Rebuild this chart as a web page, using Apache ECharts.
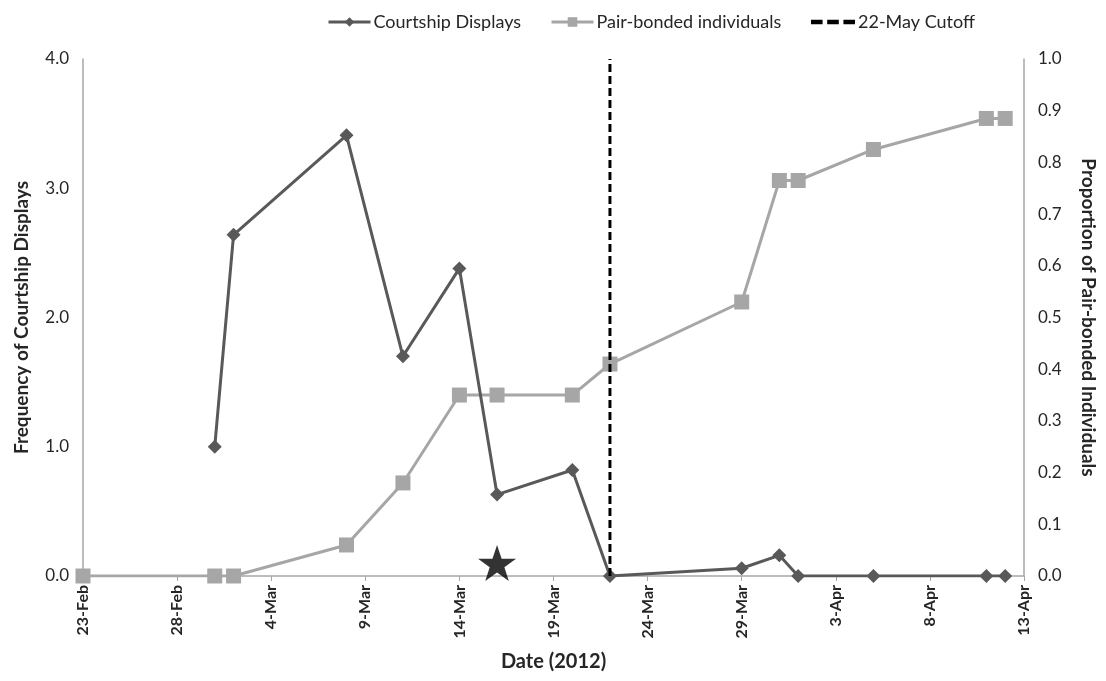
<!DOCTYPE html>
<html><head><meta charset="utf-8">
<script src="https://cdn.jsdelivr.net/npm/echarts@6/dist/echarts.min.js"></script>
<style>html,body{margin:0;padding:0;background:#fff;overflow:hidden}#c{width:1106px;height:681px}</style>
</head><body><div id="c"></div>
<script>
var startDate = '2012-02-23';
var courtshipDates = ['2012-03-01','2012-03-02','2012-03-08','2012-03-11','2012-03-14','2012-03-16','2012-03-20','2012-03-22','2012-03-29','2012-03-31','2012-04-01','2012-04-05','2012-04-11','2012-04-12'];
var courtshipValues = [1.0, 2.64, 3.41, 1.70, 2.38, 0.63, 0.82, 0.0, 0.06, 0.16, 0.0, 0.0, 0.0, 0.0];
var pairDates = ['2012-02-23','2012-03-01','2012-03-02','2012-03-08','2012-03-11','2012-03-14','2012-03-16','2012-03-20','2012-03-22','2012-03-29','2012-03-31','2012-04-01','2012-04-05','2012-04-11','2012-04-12'];
var pairValues = [0, 0, 0, 0.06, 0.18, 0.35, 0.35, 0.35, 0.41, 0.53, 0.765, 0.765, 0.825, 0.885, 0.885];
var cutoffDate = '2012-03-22';
var cutoffRange = [0, 4];
var starDate = '2012-03-16';
var starValue = 0.1;
var months = ['Jan','Feb','Mar','Apr','May','Jun','Jul','Aug','Sep','Oct','Nov','Dec'];

function dayOf(s){var p=s.split('-');return Math.round((Date.UTC(+p[0],+p[1]-1,+p[2]) - Date.UTC(2012,1,23))/86400000);}
function labelOf(d){var t=new Date(Date.UTC(2012,1,23)+d*86400000);return t.getUTCDate()+'-'+months[t.getUTCMonth()];}

var FONT = 'Lato';
var legendText = {fontSize:18,color:'#262626',fontFamily:FONT,padding:[0,0,0,-2]};
var chart = echarts.init(document.getElementById('c'));
chart.setOption({
  animation:false,
  textStyle:{fontFamily:FONT},
  legend:[
    {top:8,left:322,itemWidth:42,itemHeight:12,textStyle:legendText,lineStyle:{width:3},data:['Courtship Displays']},
    {top:8,left:545,itemWidth:42,itemHeight:12,textStyle:legendText,lineStyle:{width:3},data:['Pair-bonded individuals']},
    {top:8,left:806,itemWidth:44,itemHeight:6,textStyle:legendText,
     data:[{name:'22-May Cutoff',icon:'path://M0,0h10v4h-10z M14,0h10v4h-10z M28,0h10v4h-10z'}]}
  ],
  grid:{left:83,right:63,top:59,bottom:105,containLabel:false},
  xAxis:{
    type:'value', min:0, max:50, interval:5,
    name:'Date (2012)', nameLocation:'middle', nameGap:76,
    nameTextStyle:{fontSize:20,fontWeight:'bold',color:'#262626',fontFamily:FONT},
    axisLine:{lineStyle:{color:'#a6a6a6',width:1.5}},
    axisTick:{show:true,length:5,lineStyle:{color:'#a6a6a6'}},
    splitLine:{show:false},
    axisLabel:{rotate:90,margin:9,fontSize:16,fontWeight:'bold',color:'#262626',formatter:function(v){return labelOf(v);}}
  },
  yAxis:[{
    type:'value', min:0, max:4, interval:1, position:'left',
    name:'Frequency of Courtship Displays', nameLocation:'middle', nameGap:52,
    nameTextStyle:{fontSize:19,fontWeight:'bold',color:'#262626',fontFamily:FONT},
    axisLine:{show:true,lineStyle:{color:'#a6a6a6',width:1.5}},
    axisTick:{show:false}, splitLine:{show:false},
    axisLabel:{fontSize:17,color:'#262626',margin:14,formatter:function(v){return v.toFixed(1);}}
  },{
    type:'value', min:0, max:1, interval:0.1, position:'right',
    name:'Proportion of Pair-bonded Individuals', nameLocation:'middle', nameGap:55, nameRotate:-90,
    nameTextStyle:{fontSize:19,fontWeight:'bold',color:'#262626',fontFamily:FONT},
    axisLine:{show:true,lineStyle:{color:'#a6a6a6',width:1.5}},
    axisTick:{show:false}, splitLine:{show:false},
    axisLabel:{fontSize:17,color:'#262626',margin:14,formatter:function(v){return v.toFixed(1);}}
  }],
  series:[{
    name:'Pair-bonded individuals', type:'line', yAxisIndex:1, z:2,
    symbol:'rect', symbolSize:15,
    lineStyle:{color:'#a6a6a6',width:3}, itemStyle:{color:'#a6a6a6'},
    data:pairDates.map(function(d,i){return [dayOf(d),pairValues[i]];})
  },{
    name:'Courtship Displays', type:'line', yAxisIndex:0, z:3,
    symbol:'diamond', symbolSize:14,
    lineStyle:{color:'#595959',width:3}, itemStyle:{color:'#595959'},
    data:courtshipDates.map(function(d,i){return [dayOf(d),courtshipValues[i]];})
  },{
    name:'22-May Cutoff', type:'line', yAxisIndex:0, z:4,
    symbol:'none',
    lineStyle:{color:'#000',width:3,type:[8,4]}, itemStyle:{color:'#000'},
    data:cutoffRange.map(function(v){return [dayOf(cutoffDate),v];})
  },{
    name:'star', type:'scatter', yAxisIndex:0, z:5,
    symbol:'path://M50,0 L61.8,35.3 L98.9,35.3 L68.9,57.1 L80.3,92.7 L50,70.7 L19.7,92.7 L31.1,57.1 L1.1,35.3 L38.2,35.3 Z',
    symbolSize:[38,36], itemStyle:{color:'#000'},
    data:[[dayOf(starDate),starValue]]
  }]
});
</script></body></html>
